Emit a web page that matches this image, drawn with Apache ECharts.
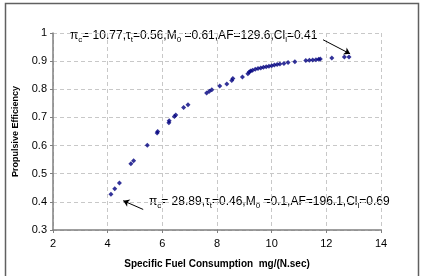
<!DOCTYPE html>
<html lang="en">
<head>
    <meta charset="UTF-8">
    <title>Propulsive Efficiency</title>
    <script src="https://cdn.jsdelivr.net/npm/echarts@6/dist/echarts.min.js"></script>
</head>
<body style="margin:0;background:#fff">
<div id="chart" style="width:422px;height:276px;"></div>
<script>
    // data
    var sfc = [4.12, 4.26, 4.43, 4.85, 4.95, 5.45, 5.81, 5.83, 6.24, 6.25, 6.44, 6.49, 6.78, 6.94,
        7.62, 7.72, 7.81, 8.10, 8.36, 8.54, 8.58, 8.93, 9.13, 9.18, 9.23, 9.30, 9.40, 9.50, 9.60,
        9.70, 9.80, 9.90, 10.00, 10.10, 10.20, 10.30, 10.45, 10.60, 10.85, 11.25, 11.38, 11.50,
        11.62, 11.72, 11.78, 12.20, 12.66, 12.83];
    var eff = [0.427, 0.447, 0.467, 0.535, 0.546, 0.601, 0.645, 0.650, 0.681, 0.688, 0.703, 0.709, 0.735, 0.745,
        0.787, 0.793, 0.798, 0.812, 0.819, 0.831, 0.838, 0.844, 0.855, 0.861, 0.865, 0.868, 0.871, 0.874, 0.876,
        0.878, 0.880, 0.882, 0.884, 0.886, 0.888, 0.890, 0.892, 0.895, 0.898, 0.902, 0.903, 0.904,
        0.905, 0.907, 0.908, 0.911, 0.915, 0.915];
    var xTicks = [2, 4, 6, 8, 10, 12, 14];
    var yTicks = [0.3, 0.4, 0.5, 0.6, 0.7, 0.8, 0.9, 1];
    // arrows [from, to]
    var arrowTop = [[11.88, 0.976], [12.87, 0.926]];
    var arrowBottom = [[5.30, 0.373], [4.57, 0.404]];

    var points = [];
    for (var i = 0; i < sfc.length; i++) {
        points.push([sfc[i], eff[i]]);
    }

    var font = '"Liberation Sans", Arial, sans-serif';
    var richStyle = {
        a: {fontSize: 12, lineHeight: 16, fontFamily: font, color: '#000'},
        s: {fontSize: 8, lineHeight: 9, verticalAlign: 'bottom', fontFamily: font, color: '#000'}
    };

    var chart = echarts.init(document.getElementById('chart'));
    var option = {
        animation: false,
        backgroundColor: '#fff',
        textStyle: {fontFamily: font},
        grid: {left: 53, right: 41, top: 33, bottom: 46},
        xAxis: {
            type: 'value',
            min: xTicks[0],
            max: xTicks[xTicks.length - 1],
            interval: 2,
            name: 'Specific Fuel Consumption  mg/(N.sec)',
            nameLocation: 'middle',
            nameGap: 29,
            nameTextStyle: {fontSize: 10, fontWeight: 'bold', color: '#000', fontFamily: font},
            axisLine: {lineStyle: {color: '#808080', width: 1.5}},
            axisTick: {length: 3, lineStyle: {color: '#808080'}},
            axisLabel: {fontSize: 11, color: '#000', margin: 8, fontFamily: font},
            splitLine: {show: true, lineStyle: {type: [4, 3], color: '#c8c8c8'}}
        },
        yAxis: {
            type: 'value',
            min: yTicks[0],
            max: yTicks[yTicks.length - 1],
            interval: 0.1,
            name: 'Propulsive Efficiency',
            nameLocation: 'middle',
            nameGap: 33,
            nameTextStyle: {fontSize: 9, fontWeight: 'bold', color: '#000', fontFamily: font},
            axisLine: {show: true, lineStyle: {color: '#808080', width: 1.5}},
            axisTick: {show: true, length: 3, lineStyle: {color: '#808080'}},
            axisLabel: {fontSize: 11, color: '#000', margin: 6, fontFamily: font,
                formatter: function (v) { return String(Math.round(v * 10) / 10); }},
            splitLine: {show: true, lineStyle: {type: [4, 3], color: '#c8c8c8'}}
        },
        series: [{
            type: 'scatter',
            data: points,
            symbol: 'diamond',
            symbolSize: 5,
            itemStyle: {color: '#000080'},
            markLine: {
                silent: true,
                symbol: ['none', 'arrow'],
                symbolSize: 6,
                label: {show: false},
                lineStyle: {color: '#000', width: 1, type: 'solid'},
                data: [
                    [{coord: arrowTop[0]}, {coord: arrowTop[1]}],
                    [{coord: arrowBottom[0]}, {coord: arrowBottom[1]}]
                ]
            }
        }],
        graphic: [
            {
                type: 'rect', left: 3, top: 1, silent: true,
                shape: {width: 413, height: 280},
                style: {fill: 'none', stroke: '#606060', lineWidth: 1.5}
            },
            {
                type: 'text', left: 70, top: 30,
                style: {
                    text: '{a|π}{s|c}{a|= 10.77,τ}{s|t}{a|=0.56,M}{s|0}{a| =0.61,AF=129.6,Cl}{s|l}{a|=0.41}',
                    rich: richStyle
                }
            },
            {
                type: 'text', left: 149, top: 196,
                style: {
                    text: '{a|π}{s|c}{a|= 28.89,τ}{s|t}{a|=0.46,M}{s|0}{a| =0.1,AF=196.1,Cl}{s|l}{a|=0.69}',
                    rich: richStyle
                }
            }
        ]
    };
    chart.setOption(option);
</script>
</body>
</html>
